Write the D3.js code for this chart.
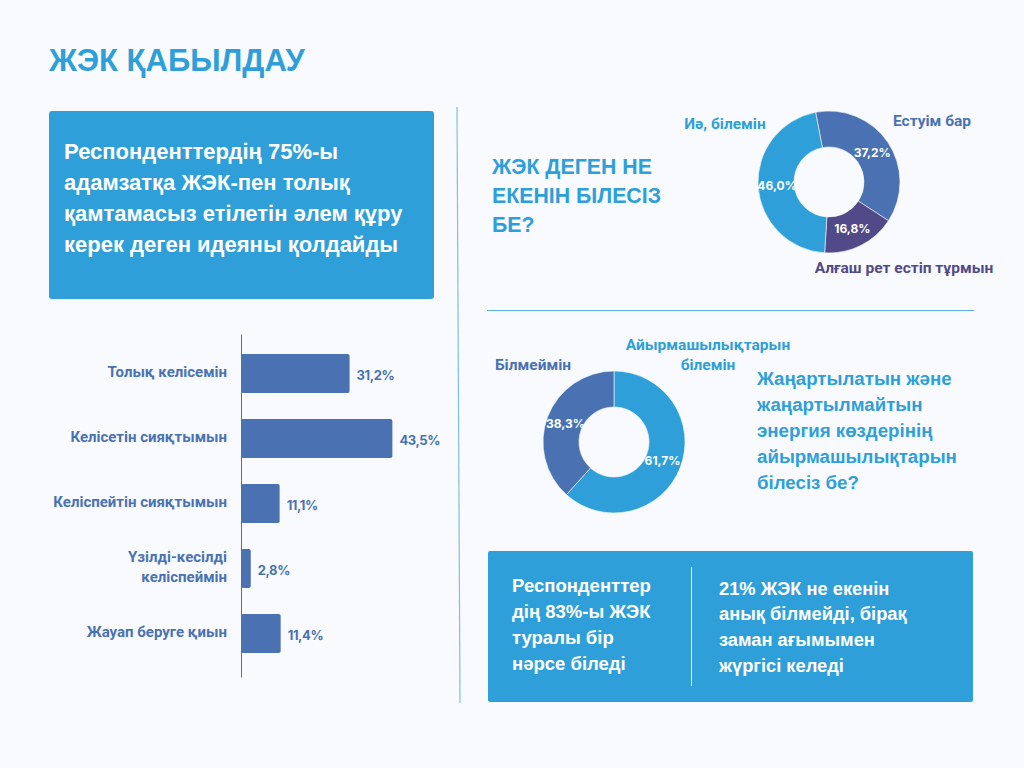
<!DOCTYPE html>
<html>
<head>
<meta charset="utf-8">
<script src="https://cdn.jsdelivr.net/npm/d3@7/dist/d3.min.js"></script>
<style>
  html, body { margin: 0; padding: 0; background: #F8FAFD; }
  svg { display: block; }
</style>
</head>
<body>
<svg id="chart" width="1024" height="768"></svg>
<script>
// ---------- DATA ----------
const titleText = "ЖЭК ҚАБЫЛДАУ";
const headlineLines = ["Респонденттердің 75%-ы", "адамзатқа ЖЭК-пен толық", "қамтамасыз етілетін әлем құру", "керек деген идеяны қолдайды"];

const barCategories = [["Толық келісемін"], ["Келісетін сияқтымын"], ["Келіспейтін сияқтымын"], ["Үзілді-кесілді", "келіспеймін"], ["Жауап беруге қиын"]];
const barValues = [31.2, 43.5, 11.1, 2.8, 11.4];

const q1Lines = ["ЖЭК ДЕГЕН НЕ", "ЕКЕНІН БІЛЕСІЗ", "БЕ?"];
const donut1Categories = ["Естуім бар", "Алғаш рет естіп тұрмын", "Иә, білемін"];
const donut1Values = [37.2, 16.8, 46.0];

const q2Lines = ["Жаңартылатын және", "жаңартылмайтын", "энергия көздерінің", "айырмашылықтарын", "білесіз бе?"];
const donut2Categories = ["Айырмашылықтарын білемін", "Білмеймін"];
const donut2Values = [61.7, 38.3];

const noteLeft = ["Респонденттер", "дің 83%-ы ЖЭК", "туралы бір", "нәрсе біледі"];
const noteRight = ["21% ЖЭК не екенін", "анық білмейді, бірақ", "заман ағымымен", "жүргісі келеді"];

// ---------- STYLE ----------
const C_LIGHT = "#2E9FD8";
const C_MID = "#4A72B2";
const C_DARK = "#524A88";
const F_MAIN = "'Liberation Sans', Arial, sans-serif";
const F_LAB = "Roboto, 'Liberation Sans', sans-serif";
const F_NUM = "Inter, Roboto, sans-serif";
const fmt = v => d3.format(".1f")(v).replace(".", ",") + "%";

const svg = d3.select("#chart");
svg.append("rect").attr("width", 1024).attr("height", 768).attr("fill", "#F8FAFD");

// Title
svg.append("text").attr("x", 49).attr("y", 60).attr("dominant-baseline", "central")
  .attr("font-family", F_MAIN).attr("font-weight", 700).attr("font-size", 31)
  .attr("fill", C_LIGHT).text(titleText);

// Headline box
svg.append("rect").attr("x", 49).attr("y", 111).attr("width", 385).attr("height", 188)
  .attr("rx", 3).attr("fill", C_LIGHT);
svg.append("g").selectAll("text").data(headlineLines).join("text")
  .attr("x", 64).attr("y", (d, i) => 151 + i * 31).attr("dominant-baseline", "central")
  .attr("font-family", F_MAIN).attr("font-weight", 700).attr("font-size", 22)
  .attr("fill", "#fff").text(d => d);

// Dividers
svg.append("line").attr("x1", 457).attr("y1", 107).attr("x2", 460).attr("y2", 703)
  .attr("stroke", "#7CC0E6").attr("stroke-width", 1.2);
svg.append("line").attr("x1", 487).attr("y1", 310.5).attr("x2", 974).attr("y2", 310.5)
  .attr("stroke", "#5FB2E0").attr("stroke-width", 1);

// ---------- BAR CHART ----------
const x = d3.scaleLinear().domain([0, 50]).range([241, 415]);
const y = d3.scaleBand().domain(d3.range(barValues.length)).range([341, 666])
  .paddingInner(0.4).paddingOuter(0.2);

const gBar = svg.append("g");
gBar.selectAll("rect").data(barValues).join("rect")
  .attr("x", x(0)).attr("y", (d, i) => y(i))
  .attr("width", d => x(d) - x(0)).attr("height", y.bandwidth())
  .attr("rx", 2).attr("fill", C_MID);

gBar.selectAll("text.val").data(barValues).join("text").attr("class", "val")
  .attr("x", d => x(d) + 7).attr("y", (d, i) => y(i) + y.bandwidth() / 2 + 1)
  .attr("dominant-baseline", "central")
  .attr("font-family", F_NUM).attr("font-weight", 700).attr("font-size", 13)
  .attr("letter-spacing", -0.4)
  .attr("fill", C_MID).text(d => fmt(d));

const labG = gBar.selectAll("g.cat").data(barCategories).join("g").attr("class", "cat");
labG.each(function (lines, i) {
  const g = d3.select(this);
  const cy = y(i) + y.bandwidth() / 2 - 2;
  const lh = 20;
  lines.forEach((t, j) => {
    g.append("text").attr("x", 227)
      .attr("y", cy + (j - (lines.length - 1) / 2) * lh)
      .attr("dominant-baseline", "central").attr("text-anchor", "end")
      .attr("font-family", F_LAB).attr("font-weight", 700).attr("font-size", 15)
      .attr("fill", C_MID).text(t);
  });
});

const axis = d3.axisLeft(d3.scaleLinear().range([334, 677])).ticks(0).tickSize(0);
gBar.append("g").attr("transform", `translate(${x(0)},0)`).call(axis)
  .call(g => g.select(".domain").attr("stroke", C_MID).attr("stroke-width", 1))
  .call(g => g.selectAll("text").remove());

// ---------- DONUT 1 ----------
svg.append("g").selectAll("text").data(q1Lines).join("text")
  .attr("x", 492).attr("y", (d, i) => 167 + i * 29).attr("dominant-baseline", "central")
  .attr("font-family", F_MAIN).attr("font-weight", 700).attr("font-size", 21.3)
  .attr("fill", C_LIGHT).text(d => d);

const d1Colors = d3.scaleOrdinal().domain(donut1Categories).range([C_MID, C_DARK, C_LIGHT]);
const pie1 = d3.pie().sort(null).startAngle(-0.19).endAngle(-0.19 + 2 * Math.PI);
const arc = d3.arc().innerRadius(35).outerRadius(71);
const labelArc = d3.arc().innerRadius(52).outerRadius(52);
const g1 = svg.append("g").attr("transform", "translate(829,182)");
const arcs1 = pie1(donut1Values);
g1.selectAll("path").data(arcs1).join("path")
  .attr("d", arc).attr("fill", (d, i) => d1Colors(donut1Categories[i]))
  .attr("stroke", "#F8FAFD").attr("stroke-width", 0.6);
g1.selectAll("text").data(arcs1).join("text")
  .attr("transform", d => `translate(${labelArc.centroid(d)})`)
  .attr("text-anchor", "middle").attr("dominant-baseline", "central")
  .attr("font-family", F_NUM).attr("font-weight", 700).attr("font-size", 12)
  .attr("fill", "#fff").text(d => fmt(d.data));

// Donut 1 category labels
const d1LabelPos = [[932, 121], [904, 268], [725, 124]];
svg.append("g").selectAll("text").data(donut1Categories).join("text")
  .attr("x", (d, i) => d1LabelPos[i][0]).attr("y", (d, i) => d1LabelPos[i][1])
  .attr("text-anchor", "middle").attr("dominant-baseline", "central")
  .attr("font-family", F_LAB).attr("font-weight", 700).attr("font-size", 15.5)
  .attr("fill", d => d1Colors(d)).text(d => d);

// ---------- DONUT 2 ----------
const d2Colors = d3.scaleOrdinal().domain(donut2Categories).range([C_LIGHT, C_MID]);
const pie2 = d3.pie().sort(null);
const g2 = svg.append("g").attr("transform", "translate(614,442)");
const arcs2 = pie2(donut2Values);
g2.selectAll("path").data(arcs2).join("path")
  .attr("d", arc).attr("fill", (d, i) => d2Colors(donut2Categories[i]))
  .attr("stroke", "#F8FAFD").attr("stroke-width", 0.6);
g2.selectAll("text").data(arcs2).join("text")
  .attr("transform", d => `translate(${labelArc.centroid(d)})`)
  .attr("text-anchor", "middle").attr("dominant-baseline", "central")
  .attr("font-family", F_NUM).attr("font-weight", 700).attr("font-size", 12)
  .attr("fill", "#fff").text(d => fmt(d.data));

// Donut 2 category labels
const gl2 = svg.append("g");
const d2First = donut2Categories[0].split(" ");
gl2.selectAll("text.l1").data(d2First).join("text").attr("class", "l1")
  .attr("x", 708).attr("y", (d, i) => 345 + i * 20).attr("text-anchor", "middle")
  .attr("dominant-baseline", "central").attr("font-family", F_LAB).attr("font-weight", 700)
  .attr("font-size", 15.5).attr("fill", d2Colors(donut2Categories[0])).text(d => d);
gl2.append("text").attr("x", 533).attr("y", 365).attr("text-anchor", "middle")
  .attr("dominant-baseline", "central").attr("font-family", F_LAB).attr("font-weight", 700)
  .attr("font-size", 15.5).attr("fill", d2Colors(donut2Categories[1]))
  .text(donut2Categories[1]);

svg.append("g").selectAll("text").data(q2Lines).join("text")
  .attr("x", 757).attr("y", (d, i) => 378 + i * 26).attr("dominant-baseline", "central")
  .attr("font-family", F_MAIN).attr("font-weight", 700).attr("font-size", 18.7)
  .attr("fill", C_LIGHT).text(d => d);

// ---------- NOTE BOX ----------
svg.append("rect").attr("x", 488).attr("y", 551).attr("width", 485).attr("height", 151)
  .attr("rx", 2).attr("fill", C_LIGHT);
svg.append("line").attr("x1", 691.5).attr("y1", 567).attr("x2", 691.5).attr("y2", 686)
  .attr("stroke", "#fff").attr("stroke-width", 1);
svg.append("g").selectAll("text").data(noteLeft).join("text")
  .attr("x", 512).attr("y", (d, i) => 585 + i * 26).attr("dominant-baseline", "central")
  .attr("font-family", F_MAIN).attr("font-weight", 700).attr("font-size", 18.5)
  .attr("fill", "#fff").text(d => d);
svg.append("g").selectAll("text").data(noteRight).join("text")
  .attr("x", 719).attr("y", (d, i) => 588 + i * 25.7).attr("dominant-baseline", "central")
  .attr("font-family", F_MAIN).attr("font-weight", 700).attr("font-size", 18.3)
  .attr("fill", "#fff").text(d => d);
</script>
</body>
</html>
